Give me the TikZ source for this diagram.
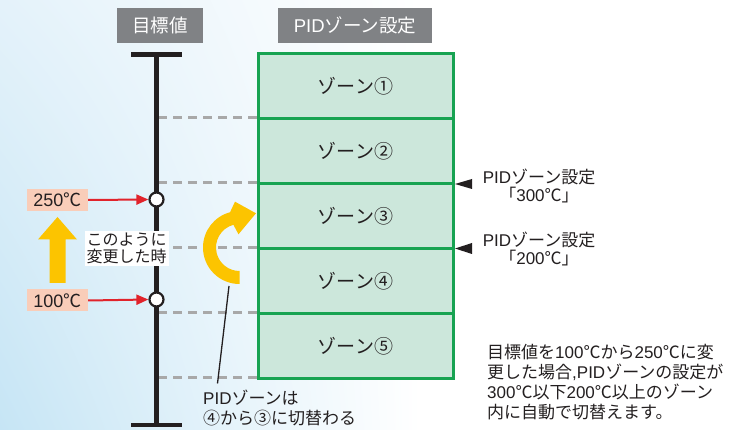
\documentclass[tikz,border=0pt]{standalone}
\usepackage{fontspec}
\setmainfont{Noto Sans CJK JP}
\newfontfamily\latf{Liberation Sans}
\usetikzlibrary{arrows.meta,calc,shadings}
\definecolor{hdrgray}{HTML}{808285}
\definecolor{zgreen}{HTML}{17A352}
\definecolor{zfill}{HTML}{CCE7DB}
\definecolor{dashgray}{HTML}{A8A8A8}
\definecolor{peach}{HTML}{F9CDB9}
\definecolor{arrred}{HTML}{E1232B}
\definecolor{yel}{HTML}{FCC400}
\definecolor{ink}{HTML}{231F20}
\definecolor{bgblue}{HTML}{C6E5F5}
\definecolor{bglight}{HTML}{E4F2FA}
\tikzset{
  hdr/.style={fill=hdrgray, text=white, font=\fontsize{18.5}{20}\selectfont, minimum height=35pt, inner sep=0pt},
  zone/.style={draw=zgreen, line width=3pt, fill=zfill, minimum width=195pt, minimum height=65pt, inner sep=0pt, font=\fontsize{19}{20}\selectfont, text=ink},
  tag/.style={fill=peach, minimum width=61pt, minimum height=22pt, inner sep=0pt, font=\fontsize{18}{20}\selectfont, text=ink},
  dot/.style={circle, draw=ink, fill=white, line width=2.2pt, minimum size=14pt, inner sep=0pt},
  redarr/.style={draw=arrred, line width=2pt, -{Triangle[length=12pt,width=10pt]}},
  guide/.style={draw=dashgray, line width=3pt, dash pattern=on 9pt off 6pt},
  axisline/.style={draw=ink, line width=4.5pt},
  txt/.style={text=ink, font=\fontsize{17}{20}\selectfont, inner sep=0pt},
  leader/.style={draw=ink, line width=1.3pt},
}
\begin{document}
\begin{tikzpicture}[x=1pt,y=-1pt]
\useasboundingbox (0,0) rectangle (756,430);
\fill[white] (0,0) rectangle (756,430);
\shade[upper left=bglight, upper right=white, lower left=bgblue, lower right=white] (0,0) rectangle (420,430);

% headers
\node[hdr, minimum width=86pt] (h1) at (160,25.5) {目標値};
\node[hdr, minimum width=154pt] (h2) at (355,25.5) {{\latf PID}ゾーン設定};

% dashed guides
\foreach \yy in {118,183,248,313,378} {
  \draw[guide] (158,\yy) -- (258,\yy);
}

% zones
\node[zone] (z1) at (355.5,86) {ゾーン①};
\node[zone] (z2) at (355.5,151) {ゾーン②};
\node[zone] (z3) at (355.5,216) {ゾーン③};
\node[zone] (z4) at (355.5,281) {ゾーン④};
\node[zone] (z5) at (355.5,346) {ゾーン⑤};

% axis
\coordinate (atop) at (156.5,54.5);
\coordinate (abot) at (156.5,425);
\draw[axisline] (131,54.5) -- (182,54.5);
\draw[axisline] (131,425) -- (182,425);
\draw[axisline] (atop) -- (abot);

% target values
\node[dot] (d250) at (156.5,199.5) {};
\node[dot] (d100) at (156.5,299.5) {};
\node[tag] (t250) at (57.5,200) {{\latf 250}℃};
\node[tag] (t100) at (57.5,300.5) {{\latf 100}℃};
\draw[redarr] (t250.east) -- (d250.west);
\draw[redarr] (t100.east) -- (d100.west);

% yellow up arrow
\fill[yel] (49.5,283) -- (49.5,239.5) -- (38,239.5) -- (57.5,217) -- (77,239.5) -- (65.5,239.5) -- (65.5,283) -- cycle;

\node[fill=white, inner sep=2pt, text=ink, font=\fontsize{16}{17}\selectfont, align=left] (chg) at (126.5,248.5) {このように\\変更した時};

% curved yellow arrow
\fill[yel] (239.5,284) arc[start angle=90, end angle=255, radius=36.5]
  -- (235,201.7) -- (256,213.3) -- (238.5,234.3)
  -- ($(239.5,247.5)+(255:23.5)$) arc[start angle=255, end angle=90, radius=23.5] -- cycle;

% leader and note
\coordinate (lead1) at (229,286);
\coordinate (lead2) at (217.5,383.5);
\draw[leader] (lead1) -- (lead2);
\node[txt, anchor=west, align=left] (n1) at (203,408) {{\latf PID}ゾーンは\\④から③に切替わる};

% right side labels
\fill[ink] (455,184) -- (472,179) -- (472,189) -- cycle;
\fill[ink] (455,248.5) -- (472,243) -- (472,254) -- cycle;
\node[txt, align=center, font=\fontsize{17}{18}\selectfont] (r1) at (539,186) {{\latf PID}ゾーン設定\\「{\latf 300}℃」};
\node[txt, align=center, font=\fontsize{17}{18}\selectfont] (r2) at (539,249) {{\latf PID}ゾーン設定\\「{\latf 200}℃」};

\node[txt, anchor=west, align=left] (note) at (487,382) {目標値を{\latf 100}℃から{\latf 250}℃に変\\更した場合{\latf ,PID}ゾーンの設定が\\{\latf 300}℃以下{\latf 200}℃以上のゾーン\\内に自動で切替えます。};
\end{tikzpicture}
\end{document}
